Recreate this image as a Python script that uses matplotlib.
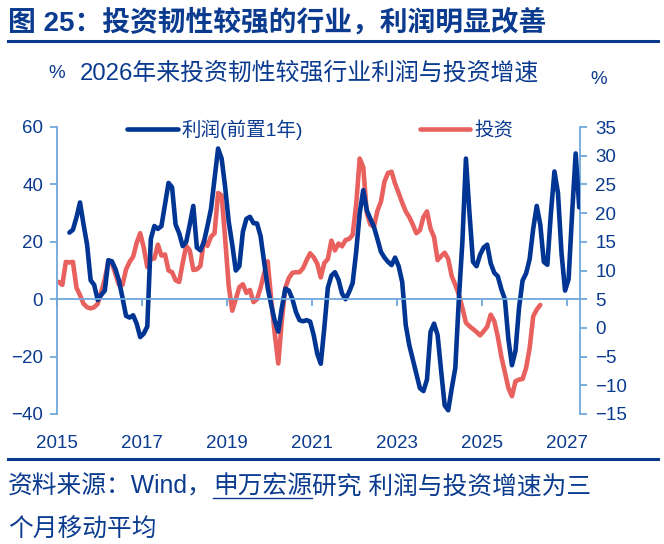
import numpy as np
import matplotlib.pyplot as plt
from matplotlib.lines import Line2D

plt.rcParams['font.family'] = ['Liberation Sans', 'Noto Sans CJK SC']

navy = '#0b3b8f'
blue = '#003594'
red = '#e8615e'
spine_c = '#6fa8dc'

# 利润(前置1年), 三个月移动平均, 月度, 自2015年4月起 (左轴, %)
profit_start = (2015, 4)
profit = [23.2, 24.2, 28.5, 33.7, 26, 19, 6.6, 5, -0.3, 1.5,
          3, 13.6, 13.2, 10.5, 6.5, 0.5, -5.8, -6.4, -5.6, -8.5,
          -13.2, -12, -9.5, 21, 25.5, 24.5, 25.5, 33, 40.5, 39,
          26, 23, 18.5, 20, 26, 32.5, 18, 17, 20, 25.5,
          31.5, 42, 52.5, 49, 39, 27, 19, 10, 11.5, 23.5,
          28, 28.7, 26.5, 26.4, 22, 13, 4, -2, -7.5, -11.3,
          -3, 3.7, 3, 0, -4.5, -7.3, -7.7, -7.3, -7.8, -12.5,
          -19, -22.5, -10, 4, 8.2, 9.4, 6.8, 2, 0, 2.5,
          5.6, 16.5, 30, 38, 31, 28, 25.3, 21, 16.5, 14.5,
          13, 11.9, 14.5, 11.5, 6, -9, -16, -21, -26, -31,
          -32, -28, -11.4, -8.5, -12.5, -25, -37, -38.7, -31, -24,
          0, 20, 49, 30, 13, 11.5, 15.5, 18, 19, 12.5,
          9.2, 8, 3.5, 0, -14, -23, -18, -3, 6.5, 9,
          14, 24.5, 32.5, 26, 13, 12, 30, 44.5, 37, 16,
          3, 7, 30, 50.8, 32]

# 投资, 三个月移动平均, 月度, 自2015年1月起 (右轴, %)
invest_start = (2015, 1)
invest = [8.0, 7.5, 11.5, 11.4, 11.5, 7, 5.7, 4.2, 3.6, 3.4,
          3.6, 4.2, 6.3, 8.5, 11.5, 11.3, 9.4, 7.5, 7.5, 10.2,
          11.5, 12.4, 14.8, 16.5, 14, 10.6, 12, 12.1, 14.5, 12.6,
          12.8, 10, 9.7, 8.3, 8, 11.3, 14.3, 13.5, 10.1, 10.2,
          10.8, 15.2, 14.3, 15.9, 16.5, 23.5, 23.1, 15.5, 7.3, 3,
          5, 7.1, 7.6, 6.1, 6.6, 4.5, 5, 7, 9.5, 11.6,
          5, -1, -6.2, 1.3, 7, 8.7, 9.6, 9.7, 9.7, 10.4,
          11.8, 13, 12.3, 11.2, 8.8, 11.3, 12, 15.2, 13.5, 14.7,
          14.2, 15.3, 15.5, 16.2, 21.5, 29.5, 28, 20, 18, 17.6,
          20.4, 22, 25.5, 27, 27.2, 25.1, 23.5, 21.8, 20.3, 19.3,
          18, 16.5, 17, 19.3, 20.3, 17.3, 15.8, 11.8, 12.5, 13.1,
          12, 9, 7.5, 5.8, 3.5, 0.9, 0.3, -0.2, -0.7, -1.3,
          -0.6, 0.2, 2.3, 1.2, -1.5, -5, -7.7, -10.5, -11.9, -9.3,
          -9, -8.9, -7, -3.5, 2, 3.2, 4]

year_ticks = list(range(2015, 2028, 2))
left_ticks = list(range(-40, 61, 20))
right_ticks = list(range(-15, 36, 5))


def month_pos(start, n):
    k = (start[0] - 2015) * 12 + (start[1] - 1) + np.arange(n)
    return 2015 + (k + 0.5) / 12


fig = plt.figure(figsize=(6.64, 5.44), dpi=100)
W, H = 664, 544
ax = fig.add_axes([57 / W, 1 - 414 / H, (580 - 57) / W, (414 - 127) / H])
ax2 = ax.twinx()

l2, = ax2.plot(month_pos(invest_start, len(invest)), invest, color=red, lw=3.3,
               solid_joinstyle='round', solid_capstyle='round')
l1, = ax.plot(month_pos(profit_start, len(profit)), profit, color=blue, lw=3.3,
              solid_joinstyle='round', solid_capstyle='round')
ax.set_zorder(ax2.get_zorder() + 1)
ax.patch.set_visible(False)

ax.set_xlim(2015, 2027.31)
ax.set_ylim(-40, 60)
ax2.set_ylim(-15, 35)

for s in ['top', 'right']:
    ax.spines[s].set_visible(False)
for s in ['top', 'left', 'bottom']:
    ax2.spines[s].set_visible(False)
ax.spines['left'].set_color(spine_c)
ax.spines['left'].set_linewidth(1.3)
ax2.spines['right'].set_color(spine_c)
ax2.spines['right'].set_linewidth(1.3)
ax.spines['bottom'].set_position(('data', 0))
ax.spines['bottom'].set_color(spine_c)
ax.spines['bottom'].set_linewidth(1.3)

ax.set_xticks(year_ticks)
ax.tick_params(axis='x', direction='out', length=5, width=1.3, color=spine_c, labelbottom=False)
sec = ax.secondary_xaxis(0)
sec.spines['bottom'].set_visible(False)
sec.set_xticks(year_ticks)
sec.set_xticklabels([str(y) for y in year_ticks])
sec.tick_params(length=0, pad=15, labelcolor=navy, labelsize=13.5)

ax.set_yticks(left_ticks)
ax.tick_params(axis='y', length=5, width=1.3, color=spine_c, labelcolor=navy, labelsize=13.5, pad=5)
ax2.set_yticks(right_ticks)
ax2.tick_params(axis='y', length=5, width=1.3, color=spine_c, labelcolor=navy, labelsize=13.5, pad=6)

ax.legend([l1, l2], ['利润(前置1年)', '投资'], ncol=2, loc='center left',
          bbox_to_anchor=(0.134, 0.99), frameon=False, borderpad=0, borderaxespad=0,
          handlelength=2.6, handletextpad=0.2, columnspacing=6.0, fontsize=14,
          labelcolor=navy)

# 标题与分隔线
fig.text(8 / W, 1 - 23 / H, '图 25：投资韧性较强的行业，利润明显改善', fontsize=20,
         fontweight='bold', color=navy, ha='left', va='center')
fig.add_artist(Line2D([8 / W, 658 / W], [1 - 41 / H] * 2, color=navy, lw=2.2))
fig.add_artist(Line2D([8 / W, 658 / W], [1 - 459 / H] * 2, color=navy, lw=2.2))

fig.text(48 / W, 1 - 74 / H, '%', fontsize=13.5, color=navy, ha='left', va='center')
fig.text(80 / W, 1 - 73 / H, '2026年来投资韧性较强行业利润与投资增速', fontsize=17.2,
         color=navy, ha='left', va='center')
fig.text(590 / W, 1 - 80 / H, '%', fontsize=13.5, color=navy, ha='left', va='center')

# 资料来源 (申万宏源带下划线)
fig.canvas.draw()
r = fig.canvas.get_renderer()
fs = 17.8
y1 = 1 - 487 / H
t1 = fig.text(8 / W, y1, '资料来源：Wind，', fontsize=fs, color=navy, ha='left', va='center')
x_a = t1.get_window_extent(r).x1 / fig.bbox.width
t2 = fig.text(x_a, y1, '申万宏源', fontsize=fs, color=navy, ha='left', va='center')
x_b = t2.get_window_extent(r).x1 / fig.bbox.width
fig.add_artist(Line2D([x_a, x_b], [1 - 498 / H] * 2, color=navy, lw=1))
fig.text(x_b, y1, '研究 利润与投资增速为三', fontsize=fs, color=navy, ha='left', va='center')
fig.text(8 / W, 1 - 530 / H, '个月移动平均', fontsize=fs, color=navy, ha='left', va='center')

fig.savefig('out.png', dpi=100)
